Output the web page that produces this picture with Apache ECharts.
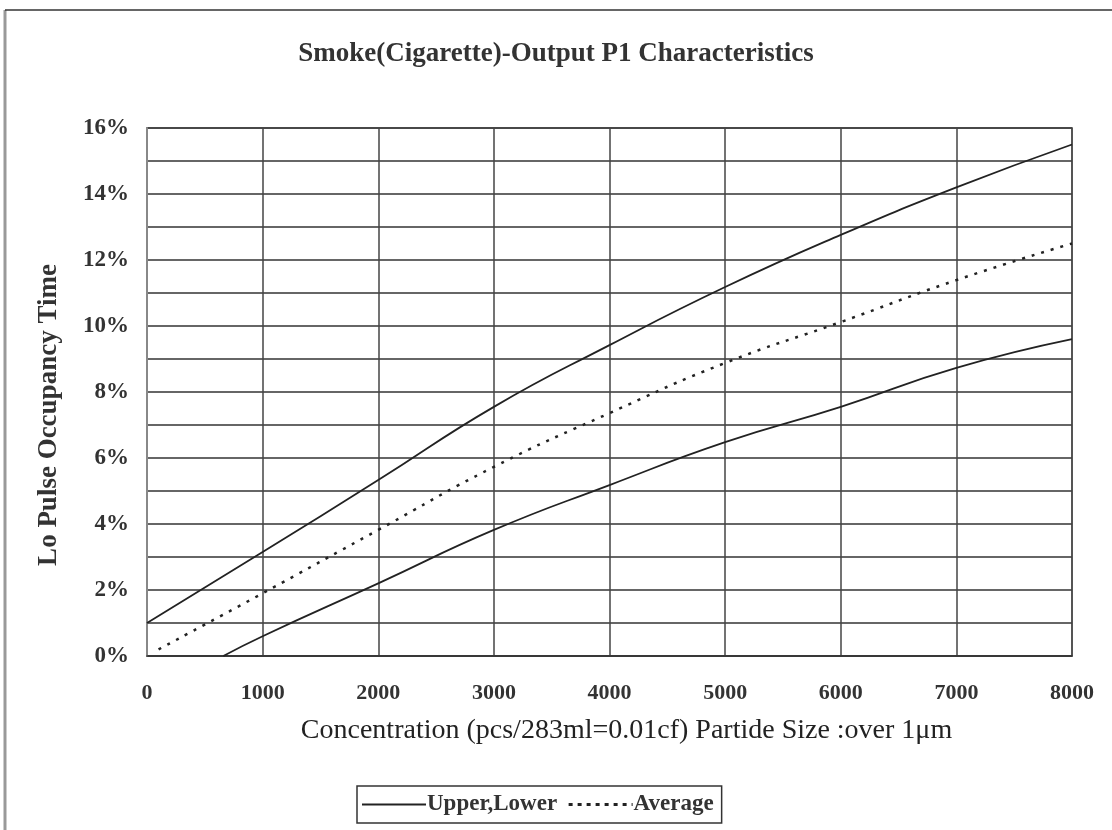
<!DOCTYPE html>
<html>
<head>
<meta charset="utf-8">
<script src="https://cdn.jsdelivr.net/npm/echarts@6/dist/echarts.min.js"></script>
<style>html,body{margin:0;padding:0;background:#fff}#c{width:1112px;height:830px}</style>
</head>
<body>
<div id="c"></div>
<script>
const xTicks = [0, 1000, 2000, 3000, 4000, 5000, 6000, 7000, 8000];
const upper = [[0, 1.0], [1000, 3.15], [2000, 5.33], [3000, 7.55], [4000, 9.42], [5000, 11.18], [6000, 12.76], [7000, 14.2], [8000, 15.5]];
const lower = [[660, 0], [1000, 0.6], [2000, 2.2], [3000, 3.82], [4000, 5.18], [5000, 6.48], [6000, 7.55], [7000, 8.73], [8000, 9.6]];
const average = [[100, 0.2], [1000, 1.9], [2000, 3.82], [3000, 5.73], [4000, 7.36], [5000, 8.88], [6000, 10.12], [7000, 11.39], [8000, 12.5]];
const titleText = 'Smoke(Cigarette)-Output P1 Characteristics';
const xName = 'Concentration (pcs/283ml=0.01cf) Partide Size :over 1\u03bcm';
const yName = 'Lo Pulse Occupancy Time';

const serif = '"Liberation Serif", "DejaVu Serif", serif';
const chart = echarts.init(document.getElementById('c'), null, {renderer: 'canvas'});
chart.setOption({
  backgroundColor: '#fff',
  animation: false,
  title: {
    text: titleText, left: 'center', top: 36, padding: [5, 5, 5, 25],
    textStyle: {fontFamily: serif, fontSize: 27, fontWeight: 'bold', color: '#333'}
  },
  graphic: [
    {type: 'line', shape: {x1: 5, y1: 10, x2: 5, y2: 830}, style: {stroke: '#999', lineWidth: 3}},
    {type: 'line', shape: {x1: 5, y1: 10, x2: 1112, y2: 10}, style: {stroke: '#333', lineWidth: 1.5}}
  ],
  grid: {left: 147, right: 40, top: 128, bottom: 174, show: true, borderColor: '#888', borderWidth: 2},
  xAxis: {
    type: 'value', min: 0, max: 8000, interval: 1000,
    name: xName, nameLocation: 'middle', nameGap: 61,
    nameTextStyle: {fontFamily: serif, fontSize: 28, color: '#222', padding: [0, 0, 0, 34]},
    axisLine: {show: true, lineStyle: {color: '#333', width: 1.5}},
    axisTick: {show: false},
    axisLabel: {fontFamily: serif, fontSize: 22, fontWeight: 'bold', color: '#333', margin: 26,
      formatter: v => xTicks.includes(v) ? String(v) : ''},
    splitLine: {show: true, lineStyle: {color: '#444', width: 1.5}}
  },
  yAxis: {
    type: 'value', min: 0, max: 16, interval: 1,
    name: yName, nameLocation: 'middle', nameGap: 84,
    nameTextStyle: {fontFamily: serif, fontSize: 27, fontWeight: 'bold', color: '#333', padding: [0, 46, 0, 0]},
    axisLine: {show: true, lineStyle: {color: '#888', width: 2}},
    axisTick: {show: false},
    axisLabel: {fontFamily: serif, fontSize: 23, fontWeight: 'bold', color: '#333', margin: 18,
      formatter: v => (v % 2 === 0 ? v + '%' : '')},
    splitLine: {show: true, lineStyle: {color: '#333', width: 1.5}}
  },
  legend: {
    bottom: 7, left: 357,
    data: [
      {name: 'Upper,Lower'},
      {name: 'Average', lineStyle: {width: 3, type: [4, 5]}}
    ],
    itemWidth: 64, itemHeight: 14, itemGap: 10,
    borderColor: '#333', borderWidth: 1.5, padding: [7, 8, 7, 4],
    itemStyle: {opacity: 0},
    textStyle: {fontFamily: serif, fontSize: 23, fontWeight: 'bold', color: '#333', padding: [0, 0, 0, -4]}
  },
  series: [
    {name: 'Upper,Lower', type: 'line', data: upper, smooth: true, showSymbol: false, symbol: 'none',
      lineStyle: {color: '#222', width: 1.8}, itemStyle: {color: '#222'}},
    {name: 'Upper,Lower', type: 'line', data: lower, smooth: true, showSymbol: false, symbol: 'none',
      lineStyle: {color: '#222', width: 1.8}, itemStyle: {color: '#222'}},
    {name: 'Average', type: 'line', data: average, smooth: true, showSymbol: false, symbol: 'none',
      lineStyle: {color: '#222', width: 2.5, type: [3, 7]}, itemStyle: {color: '#222'}}
  ]
});
</script>
</body>
</html>
